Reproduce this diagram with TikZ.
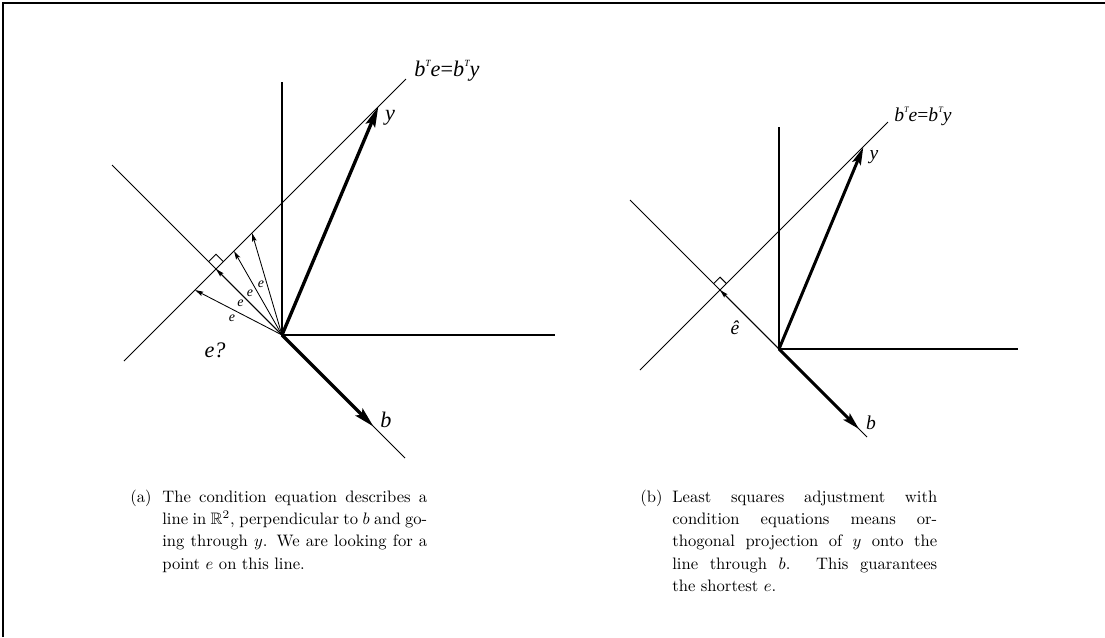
\documentclass[tikz,border=0pt]{standalone}
\usepackage{amssymb}
\usepackage{fontspec}
\newfontfamily\figfont{Liberation Serif}
\usetikzlibrary{arrows.meta, calc}

\begin{document}
\begin{tikzpicture}[
    x=0.6024pt, y=-0.6024pt,
    axis/.style={line width=1pt},
    thinline/.style={line width=0.6pt},
    vec/.style={line width=2pt, -{Stealth[length=12.2pt, width=6pt, inset=2.2pt]}},
    vecb/.style={line width=1.8pt, -{Stealth[length=10.5pt, width=5.4pt, inset=2pt]}},
    evec/.style={line width=0.51pt, -{Stealth[length=5.1pt, width=2.75pt, inset=0.9pt]}},
    lbl/.style={font=\figfont\itshape\fontsize{13.4}{15}\selectfont, inner sep=0pt},
    lblb/.style={font=\figfont\itshape\fontsize{11.8}{13}\selectfont, inner sep=0pt},
    elbl/.style={font=\figfont\itshape\fontsize{8.4}{10}\selectfont, inner sep=0pt},
    captag/.style={anchor=north west, inner sep=0pt, font=\fontsize{10}{13.43}\selectfont},
    caption/.style={anchor=north west, inner sep=0pt, text width=159.6pt, align=justify,
      font=\fontsize{10}{13.43}\selectfont}
]
\useasboundingbox (0,0) rectangle (1105,637);

% Frame
\draw[line width=1.7pt] (3,637) -- (3,3) -- (1105,3);

% (a) points
\coordinate (Oa) at (282,335);
\coordinate (Va) at (282,82);
\coordinate (Ha) at (555,335);
\coordinate (Ya) at (378.3,106.7);
\coordinate (Ba) at (373.5,426.5);
\coordinate (BSa) at (112,165);
\coordinate (BEa) at (405,458);
\coordinate (CSa) at (124,361);
\coordinate (CEa) at (406,79);
\coordinate (Fa) at (216,269);
\coordinate (E1) at (195,290);
\coordinate (E3) at (234,251);
\coordinate (E4) at (252,233);

% (a) lines
\draw[axis] (Va) -- (Oa) -- (Ha);
\draw[thinline] (BSa) -- (BEa);
\draw[thinline] (CSa) -- (CEa);
\draw[thinline] ($(Fa)+(-7.4,-7.4)$) -- ++(7.4,-7.4) -- ++(7.4,7.4);
\draw[vec] (Oa) -- (Ya);
\draw[vec] (Oa) -- (Ba);
\foreach \p in {E1,Fa,E3,E4}
  \draw[evec] (Oa) -- (\p);

% (a) labels
\node[lbl] (ya) at (390,118) {y};
\node[lbl] (ba) at (386,420) {b};
\node[lbl] (eq) at (215,350) {e?};
\node[lbl, anchor=base west] (conda) at (414,76)
  {b\raisebox{5.7pt}{\fontsize{5.7}{6}\selectfont T}e\upshape=\itshape b\raisebox{5.7pt}{\fontsize{5.7}{6}\selectfont T}y};
\node[elbl] (e1) at (232,318) {e};
\node[elbl] (e2) at (240.5,303.5) {e};
\node[elbl] (e3) at (250,293) {e};
\node[elbl] (e4) at (261,284) {e};

% (b) points
\coordinate (Ob) at (779,349);
\coordinate (Vb) at (779,127);
\coordinate (Hb) at (1018,349);
\coordinate (Yb) at (863.3,147.3);
\coordinate (Bb) at (859,429);
\coordinate (BSb) at (630,200);
\coordinate (BEb) at (867,437);
\coordinate (CSb) at (640,370);
\coordinate (CEb) at (888,122);
\coordinate (Fb) at (720,290);

% (b) lines
\draw[axis] (Vb) -- (Ob) -- (Hb);
\draw[thinline] (BSb) -- (BEb);
\draw[thinline] (CSb) -- (CEb);
\draw[thinline] ($(Fb)+(-6.4,-6.4)$) -- ++(6.4,-6.4) -- ++(6.4,6.4);
\draw[vecb] (Ob) -- (Yb);
\draw[vecb] (Ob) -- (Bb);
\draw[evec] (Ob) -- (Fb);

% (b) labels
\node[lblb] (yb) at (874,157) {y};
\node[lblb] (bb) at (871,423) {b};
\node[lblb] (ehat) at (735,328) {ê};
\node[lblb, anchor=base west] (condb) at (894,121)
  {b\raisebox{5pt}{\fontsize{5}{5.5}\selectfont T}e\upshape=\itshape b\raisebox{5pt}{\fontsize{5}{5.5}\selectfont T}y};

% Captions
\node[captag] (taga) at (130,486.4) {\strut(a)};
\node[caption] (capa) at (162,486.4)
  {\hyphenpenalty=10000 \strut The condition equation describes a\linebreak
   line in $\mathbb{R}^2$, perpendicular to $b$ and go-\linebreak
   ing through $y$. We are looking for a\linebreak
   point $e$ on this line.};
\node[captag] (tagb) at (640,486.4) {\strut(b)};
\node[caption] (capb) at (672,486.4)
  {\hyphenpenalty=10000 \strut Least squares adjustment with\linebreak
   condition equations means or-\linebreak
   thogonal projection of $y$ onto the\linebreak
   line through $b$. This guarantees\linebreak
   the shortest $e$.};

\end{tikzpicture}
\end{document}
